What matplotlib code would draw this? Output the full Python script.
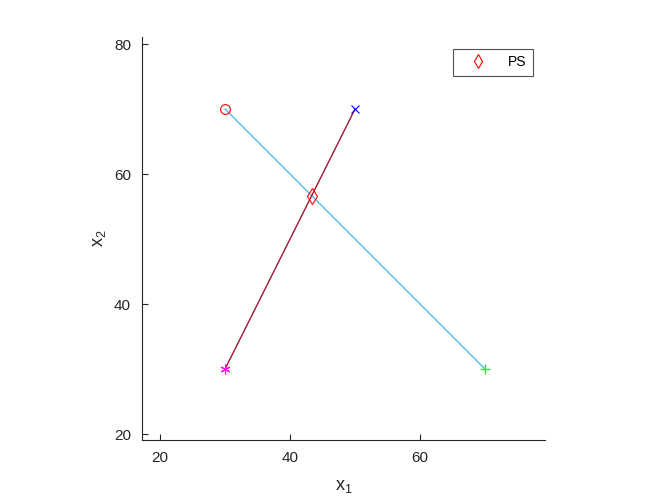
import matplotlib
matplotlib.use('Agg')
import matplotlib.pyplot as plt

plt.rcParams['font.family'] = ['Liberation Sans', 'DejaVu Sans']
plt.rcParams['mathtext.fontset'] = 'custom'
plt.rcParams['mathtext.rm'] = 'Liberation Sans'

# segment end points
seg1_x = [30, 70]
seg1_y = [70, 30]
seg2_x = [30, 50]
seg2_y = [30, 70]
# intersection point (PS)
ps_x = [43.33]
ps_y = [56.67]

xticks = [20, 40, 60]
yticks = [20, 40, 60, 80]

fig = plt.figure(figsize=(6.64, 4.98), dpi=100)
ax = fig.add_axes([0.2139, 0.1165, 0.6069, 0.8092])

ax.plot(seg1_x, seg1_y, color='#4DBEEE', lw=1)
ax.plot(seg2_x, seg2_y, color='#A2142F', lw=1)
ax.plot(seg1_x[0], seg1_y[0], 'o', mfc='none', mec='red', ms=7, mew=0.8)
ax.plot(seg1_x[1], seg1_y[1], '+', color='#44dd44', ms=7, mew=1)
ax.plot(seg2_x[0], seg2_y[0], color='magenta', ms=7, mew=0.8, marker=(6, 2, 0))
ax.plot(seg2_x[1], seg2_y[1], 'x', color='blue', ms=6, mew=0.8)
ax.plot(ps_x, ps_y, 'd', mfc='none', mec='red', ms=8, mew=0.8, label='PS')

ax.set_xlim(17.23, 79.23)
ax.set_ylim(19.08, 81.08)
ax.set_xticks(xticks)
ax.set_yticks(yticks)

for s in ['top', 'right']:
	ax.spines[s].set_visible(False)
for s in ['left', 'bottom']:
	ax.spines[s].set_color('#262626')
	ax.spines[s].set_linewidth(0.8)
ax.tick_params(direction='in', length=4, width=0.8, colors='#262626', labelsize=11, pad=8)

ax.set_xlabel('$\\mathregular{x_1}$', fontsize=13, color='#262626', labelpad=9)
ax.set_ylabel('$\\mathregular{x_2}$', fontsize=13, color='#262626', labelpad=4)

leg = ax.legend(loc='upper right', bbox_to_anchor=(0.97, 0.97), borderaxespad=0,
	fontsize=10, fancybox=False, edgecolor='#262626', handlelength=2.6,
	handletextpad=0.9, borderpad=0.45, markerscale=0.85)
leg.get_frame().set_linewidth(0.8)

fig.savefig('out.png', dpi=100)
